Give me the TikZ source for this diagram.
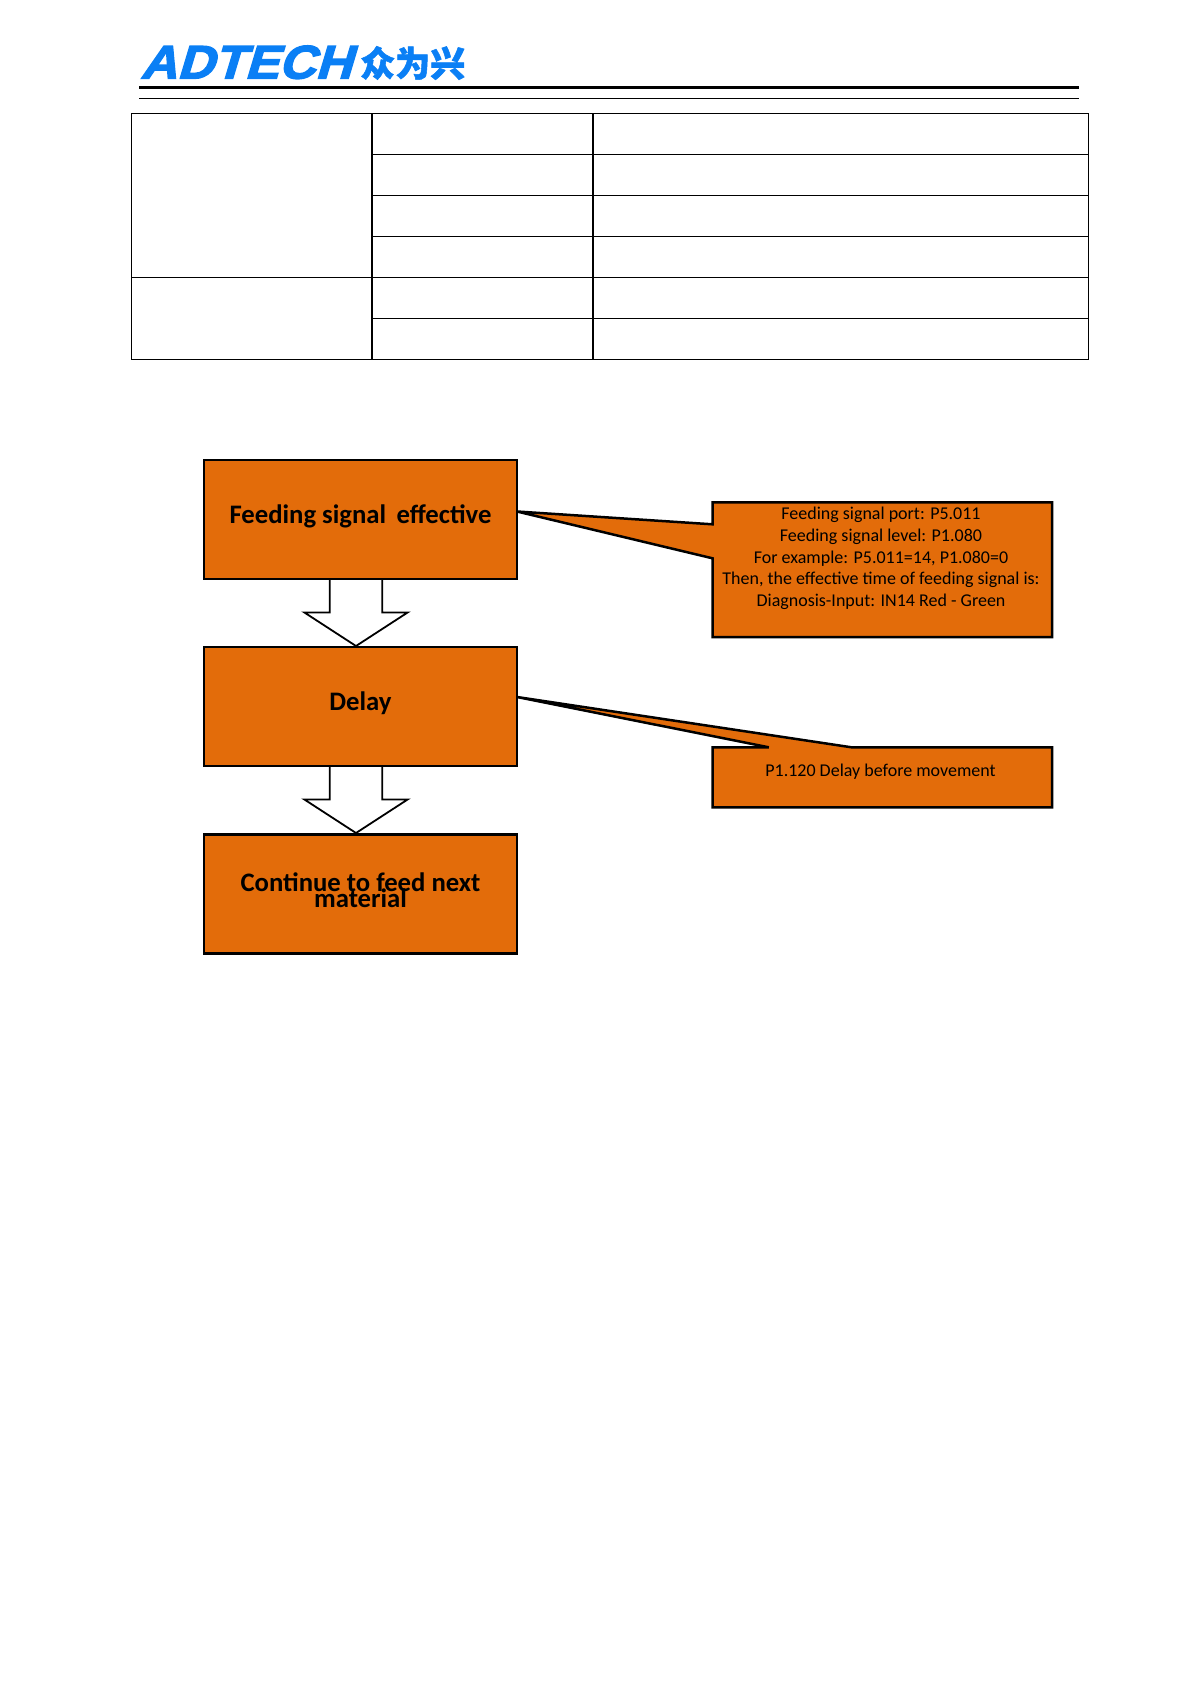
\documentclass[tikz,border=0pt]{standalone}
\usepackage{fontspec}
\setmainfont{Carlito}
\newfontfamily\logofont[FakeSlant=0.3,FakeBold=3,FakeStretch=1.08]{Liberation Sans Bold}
\newfontfamily\logocjk[BoldFeatures={FakeBold=1.5}]{Noto Sans CJK SC}
\usetikzlibrary{calc,positioning,shapes.arrows}
\definecolor{boxorange}{HTML}{E36C0A}
\definecolor{logoblue}{HTML}{0A7FF5}
\newcommand{\tightlines}{\lineskiplimit=-30pt\relax}
\tikzset{
	tabcell/.style={draw,line width=1.2pt,inner sep=0pt,outer sep=0pt,minimum height=41pt},
	leftcell/.style={tabcell,minimum width=240.5pt},
	midcell/.style={tabcell,minimum width=221pt},
	rightcell/.style={tabcell,minimum width=495.5pt},
	flowbox/.style={draw,line width=2.5pt,fill=boxorange,outer sep=0pt,minimum width=313pt,minimum height=119pt,align=center,
		font=\fontsize{26.7}{15.5}\selectfont\bfseries\tightlines},
	bigarrow/.style={draw,line width=1.8pt,fill=white,single arrow,shape border rotate=270,inner xsep=25.35pt,inner ysep=0pt,outer sep=0pt,
		minimum width=102pt,minimum height=67pt,single arrow head extend=25.5pt,single arrow tip angle=114,single arrow head indent=0pt,anchor=tail},
	note/.style={line width=2.5pt,draw,fill=boxorange,line join=miter},
	notetext/.style={align=center,inner sep=0pt,font=\fontsize{18}{21.7}\selectfont}
}

\begin{document}
\begin{tikzpicture}[x=1pt,y=1pt]
	\useasboundingbox (0,0) rectangle (1190,-1684);
	% logo and header rules
	\node[anchor=base west,inner sep=0pt,text=logoblue,font=\fontsize{47}{47}\logofont] (logotext) at (140,-78.5) {ADTECH};
	\node[anchor=base west,inner sep=0pt,text=logoblue,font=\fontsize{35}{36}\logocjk\bfseries] (logocn) at (360,-76.5) {众为兴};
	\coordinate (headl) at (139,-87.5);
	\coordinate (headr) at (1079,-87.5);
	\draw[line width=3pt] (headl) -- (headr);
	\draw[line width=1pt] ($(headl)+(0,-11)$) -- ($(headr)+(0,-11)$);
	% table
	\node[leftcell,minimum height=164pt] (group1) at (251.75,-195.3) {};
	\node[leftcell,minimum height=82pt] (group2) at (251.75,-318.3) {};
	\foreach \row in {0,...,5} {
		\node[midcell] (mid\row) at (482.5,-133.8-41*\row) {};
		\node[rightcell] (right\row) at (840.75,-133.8-41*\row) {};
	}
	% flow chart
	\node[flowbox,text depth=11.5pt] (feedbox) at (360.5,-519.5) {Feeding signal\, effective};
	\node[flowbox,below=68pt of feedbox,text depth=11pt] (delaybox) {Delay};
	\node[flowbox,below=68.5pt of delaybox,text depth=8pt] (nextbox) {Continue to feed next\\material};
	\node[bigarrow] (arrow1) at ($(feedbox.south)+(-4.5,0)$) {};
	\node[bigarrow] (arrow2) at ($(delaybox.south)+(-4.5,0)$) {};
	% notes with their pointers
	\coordinate (portnw) at (712.5,-502.3);
	\coordinate (portse) at (1052,-637);
	\draw[note] (portnw) -- (portnw|-0,-524.3) -- ($(feedbox.east)+(0,8)$) -- (portnw|-0,-558.3) -- (portnw|-portse) -- (portse) -- (portse|-portnw) -- cycle;
	\node[notetext] (porttext) at (881,-558.5) {Feeding signal port: P5.011\\Feeding signal level: P1.080\\For example: P5.011=14, P1.080=0\\Then, the effective time of feeding signal is:\\Diagnosis-Input: IN14 Red - Green};
	\coordinate (delaynw) at (712.5,-747.3);
	\coordinate (delayse) at (1052,-807.3);
	\draw[note] (delaynw) -- (768.8,-747.3) -- ($(delaybox.east)+(0,9.5)$) -- (851.5,-747.3) -- (delaynw-|delayse) -- (delayse) -- (delaynw|-delayse) -- cycle;
	\node[notetext] (delaytext) at (880.5,-772) {P1.120 Delay before movement};
\end{tikzpicture}
\end{document}
